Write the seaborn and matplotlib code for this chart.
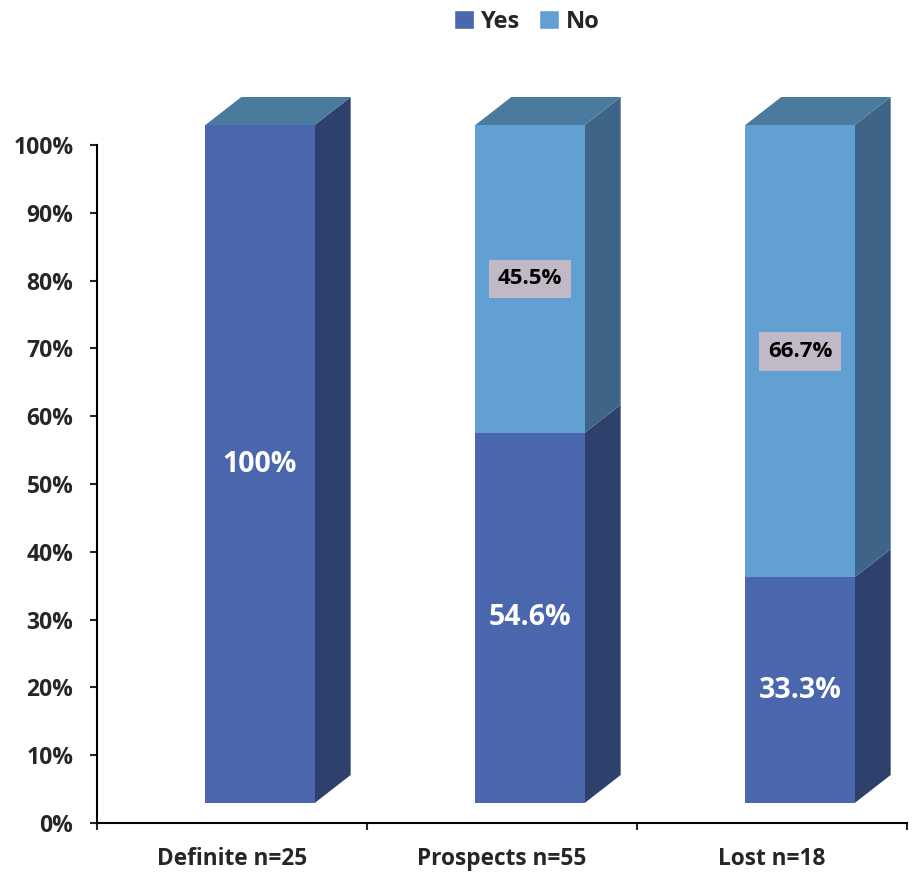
import matplotlib
matplotlib.use("Agg")
import matplotlib.pyplot as plt
import matplotlib.transforms as mtransforms
from matplotlib.patches import Polygon, Patch
import seaborn as sns

categories = ["Definite n=25", "Prospects n=55", "Lost n=18"]
yes_pct = [100.0, 54.6, 33.3]
no_pct = [0.0, 45.5, 66.7]
yes_labels = ["100%", "54.6%", "33.3%"]
no_labels = ["", "45.5%", "66.7%"]

YES_FRONT, YES_SIDE = "#4a66ad", "#2e406c"
NO_FRONT, NO_SIDE = "#62a0d3", "#3e6587"
TOP = "#4b7a9f"
LABEL_BOX = "#c1bac6"

sns.set_style("white")
plt.rcParams["font.family"] = ["Open Sans", "DejaVu Sans"]
plt.rcParams["font.weight"] = "bold"

fig = plt.figure(figsize=(9.14, 8.72), dpi=100)
ax = fig.add_axes([97 / 914, 49 / 872, 810 / 914, 678 / 872])

totals = [min(y + n, 100.0) / 100 for y, n in zip(yes_pct, no_pct)]
yes_frac = [y / 100 for y in yes_pct]

sns.barplot(x=categories, y=totals, color=NO_FRONT, width=0.405,
            saturation=1, ax=ax)
sns.barplot(x=categories, y=yes_frac, color=YES_FRONT, width=0.405,
            saturation=1, ax=ax)

ax.set_xlim(-0.5, 2.5)
ax.set_ylim(0, 1)

# front faces sit a bit right/up of the category slot (Excel 3D look)
front = ax.transData + mtransforms.ScaledTranslation(0.28, 0.20, fig.dpi_scale_trans)
dx, dy = 36 / 270, 28 / 678   # depth in data units

n = len(categories)
no_bars = ax.patches[:n]
yes_bars = ax.patches[n:]
for p in ax.patches:
    p.set_transform(front)
    p.set_clip_on(False)
    p.set_edgecolor("none")
    p.set_zorder(3)

for i, (pn, py) in enumerate(zip(no_bars, yes_bars)):
    x0, w = py.get_x(), py.get_width()
    x1 = x0 + w
    yb = py.get_height()
    yt = pn.get_height()
    segs = [(0, yb, YES_SIDE)]
    if yt - yb > 1e-6:
        segs.append((yb, yt, NO_SIDE))
    for lo, hi, c in segs:
        ax.add_patch(Polygon([(x1, lo), (x1 + dx, lo + dy), (x1 + dx, hi + dy), (x1, hi)],
                             closed=True, facecolor=c, edgecolor="none",
                             transform=front, clip_on=False, zorder=2))
    ax.add_patch(Polygon([(x0, yt), (x1, yt), (x1 + dx, yt + dy), (x0 + dx, yt + dy)],
                         closed=True, facecolor=TOP, edgecolor="none",
                         transform=front, clip_on=False, zorder=2))

    xc = x0 + w / 2
    ax.text(xc, yb / 2, yes_labels[i], transform=front, ha="center", va="center",
            color="white", fontsize=20.5, fontweight="bold", zorder=5)
    if no_labels[i]:
        ax.text(xc, (yb + yt) / 2, no_labels[i], transform=front, ha="center",
                va="center", color="black", fontsize=16, fontweight="bold", zorder=5,
                bbox=dict(boxstyle="square,pad=0.4", facecolor=LABEL_BOX, edgecolor="none"))

ax.set_yticks([i / 10 for i in range(11)])
ax.set_yticklabels([f"{i * 10}%" for i in range(11)])
ax.set_xticks(range(n))
ax.set_xticklabels(categories)
ax.set_xticks([-0.5, 0.5, 1.5, 2.5], minor=True)
ax.tick_params(axis="y", direction="out", length=5, width=1.5, pad=12,
               labelsize=16.5, left=True)
ax.tick_params(axis="x", which="major", length=0, pad=17, labelsize=16.3)
ax.tick_params(axis="x", which="minor", direction="out", length=5, width=1.5, bottom=True)
for lab in ax.get_xticklabels() + ax.get_yticklabels():
    lab.set_fontweight("bold")

for s in ["top", "right"]:
    ax.spines[s].set_visible(False)
for s in ["left", "bottom"]:
    ax.spines[s].set_color("black")
    ax.spines[s].set_linewidth(1.5)
ax.set_xlabel("")
ax.set_ylabel("")

handles = [Patch(facecolor=YES_FRONT, label="Yes"), Patch(facecolor=NO_FRONT, label="No")]
fig.legend(handles=handles, loc="center", bbox_to_anchor=(0.5766, 0.975), ncol=2,
           frameon=False, prop={"size": 17, "weight": "bold"},
           handlelength=0.85, handleheight=0.85, handletextpad=0.3, columnspacing=0.8)

fig.savefig("out.png", dpi=100)
